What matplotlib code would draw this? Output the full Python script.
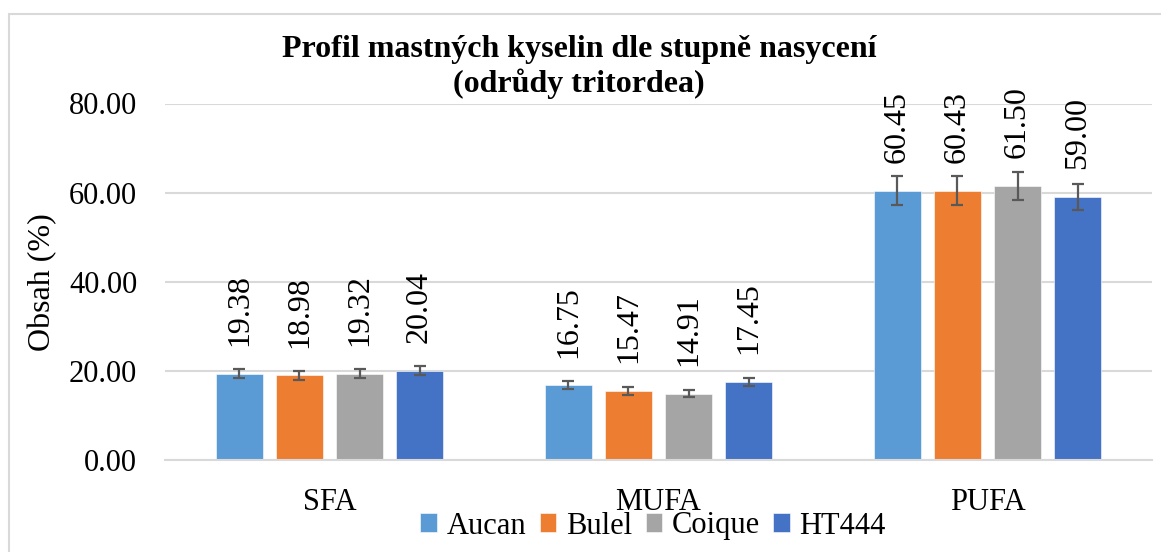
import matplotlib.pyplot as plt
import numpy as np
from matplotlib.patches import Rectangle

# data
categories = ["SFA", "MUFA", "PUFA"]
varieties = ["Aucan", "Bulel", "Coique", "HT444"]
aucan = [19.38, 16.75, 60.45]
bulel = [18.98, 15.47, 60.43]
coique = [19.32, 14.91, 61.50]
ht444 = [20.04, 17.45, 59.00]
aucan_err = [1.0, 0.9, 3.2]
bulel_err = [1.0, 0.8, 3.2]
coique_err = [1.0, 0.8, 3.2]
ht444_err = [1.0, 0.9, 3.0]
y_ticks = [0, 20, 40, 60, 80]

colors = ["#5B9BD5", "#ED7D31", "#A5A5A5", "#4472C4"]
plt.rcParams["font.family"] = ["Liberation Serif", "DejaVu Serif"]

fig = plt.figure(figsize=(11.61, 5.52), dpi=100)
W, H = 1161, 552
ax = fig.add_axes([165 / W, 1 - 460 / H, 987 / W, (460 - 103.5) / H])

series = [aucan, bulel, coique, ht444]
errs = [aucan_err, bulel_err, coique_err, ht444_err]
x = np.arange(len(categories))
step = 0.1824
width = 0.142
for i, (vals, err) in enumerate(zip(series, errs)):
    pos = x + (i - 1.5) * step
    ax.bar(pos, vals, width, color=colors[i], label=varieties[i],
           edgecolor="white", linewidth=0.4, zorder=2)
    ax.errorbar(pos, vals, yerr=err, fmt="none", ecolor="#595959",
                elinewidth=1.6, capsize=4.5, capthick=1.6, zorder=3)
    for xp, v in zip(pos, vals):
        ax.annotate(f"{v:.2f}", (xp, v), xytext=(0, 20), textcoords="offset points",
                    rotation=90, ha="center", va="bottom", fontsize=23)

ax.set_xlim(-0.5, 2.5)
ax.set_ylim(0, 80)
ax.set_yticks(y_ticks)
ax.set_yticklabels([f"{t:.2f}" for t in y_ticks], fontsize=22)
ax.set_xticks(x)
ax.set_xticklabels(categories, fontsize=22)
ax.tick_params(axis="both", length=0)
ax.tick_params(axis="y", pad=20)
ax.tick_params(axis="x", pad=20)
ax.yaxis.grid(True, color="#D9D9D9", linewidth=1.5, zorder=0)
ax.set_axisbelow(True)
for s in ["top", "right", "left"]:
    ax.spines[s].set_visible(False)
ax.spines["bottom"].set_color("#D9D9D9")
ax.spines["bottom"].set_linewidth(1.5)
ax.set_ylabel("Obsah (%)", fontsize=23)
ax.yaxis.set_label_coords(-(165 - 57) / 987, 0.5)

fig.text(579 / W, 1 - 67 / H, "Profil mastných kyselin dle stupně nasycení\n(odrůdy tritordea)",
         ha="center", va="center", fontsize=23, fontweight="bold", linespacing=1.15)

ax.legend(loc="center", bbox_to_anchor=(653 / W, 1 - 526 / H), bbox_transform=fig.transFigure,
          ncol=4, frameon=False, fontsize=22, handlelength=0.55, handleheight=0.55,
          handletextpad=0.3, columnspacing=0.45, borderpad=0, borderaxespad=0)

fig.patches.append(Rectangle((9 / W, -0.1), 1.2, 1 - 14 / H + 0.1, transform=fig.transFigure,
                             fill=False, edgecolor="#D9D9D9", linewidth=1.5))

fig.savefig("out.png", dpi=100)
